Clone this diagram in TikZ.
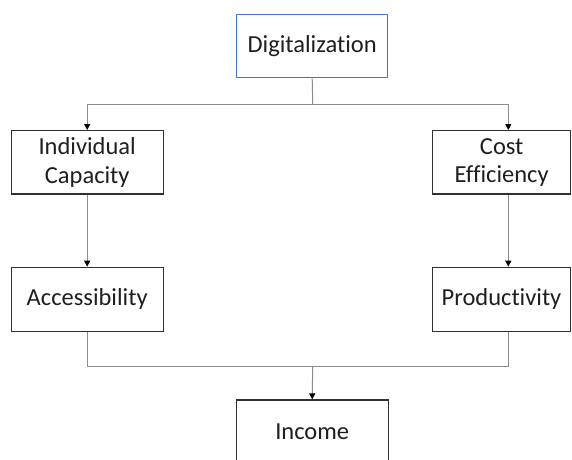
\documentclass[tikz,border=0pt]{standalone}
\usepackage{fontspec}
\setmainfont{Carlito}[Ligatures={NoCommon,NoContextual}]
\usetikzlibrary{arrows.meta}
\definecolor{boxblue}{HTML}{4472C4}
\definecolor{linegray}{HTML}{8C8C8C}
\definecolor{boxgray}{HTML}{303030}
\tikzset{
  box/.style={draw=boxgray, line width=1.2pt, fill=white, inner sep=0pt, align=center,
    font=\fontsize{24.5}{28.5}\selectfont, text=black!88},
  conn/.style={draw=linegray, line width=1pt},
  arr/.style={conn, -{Triangle[width=6pt,length=6pt,fill=black,color=black]}}
}
\begin{document}
\begin{tikzpicture}[x=1pt,y=-1pt]
\useasboundingbox (0,0) rectangle (572,459);
\fill[white] (0,0) rectangle (572,459);
\clip (0,0) rectangle (572,459);
\node[box, draw=boxblue, minimum width=151pt, minimum height=63pt] (dig) at (312.2,46.2) {Digitalization};
\node[box, minimum width=152pt, minimum height=63.3pt] (ind) at (87.2,162.3) {Individual\\Capacity};
\node[box, minimum width=138pt, minimum height=63.3pt] (cost) at (501.7,162.3) {Cost\\Efficiency};
\node[box, minimum width=152pt, minimum height=64pt] (acc) at (87.2,299.3) {Accessibility};
\node[box, minimum width=138.4pt, minimum height=64pt] (prod) at (501.5,299.3) {Productivity};
\node[box, minimum width=152pt, minimum height=64pt] (inc) at (312.2,432) {Income};
\coordinate (j1) at (312.7,104);
\coordinate (cR) at (508.3,104);
\coordinate (j2) at (312.7,366.7);
\draw[conn] (dig.south) -- (j1);
\draw[arr] (j1) -| (ind.north);
\draw[arr] (j1) -| (cost.north -| cR);
\draw[arr] (ind.south) -- (acc.north);
\draw[arr] (cost.south -| cR) -- (prod.north -| cR);
\draw[conn] (acc.south) |- (j2) -| (prod.south -| cR);
\draw[arr] (j2) -- (inc.north);
\end{tikzpicture}
\end{document}
